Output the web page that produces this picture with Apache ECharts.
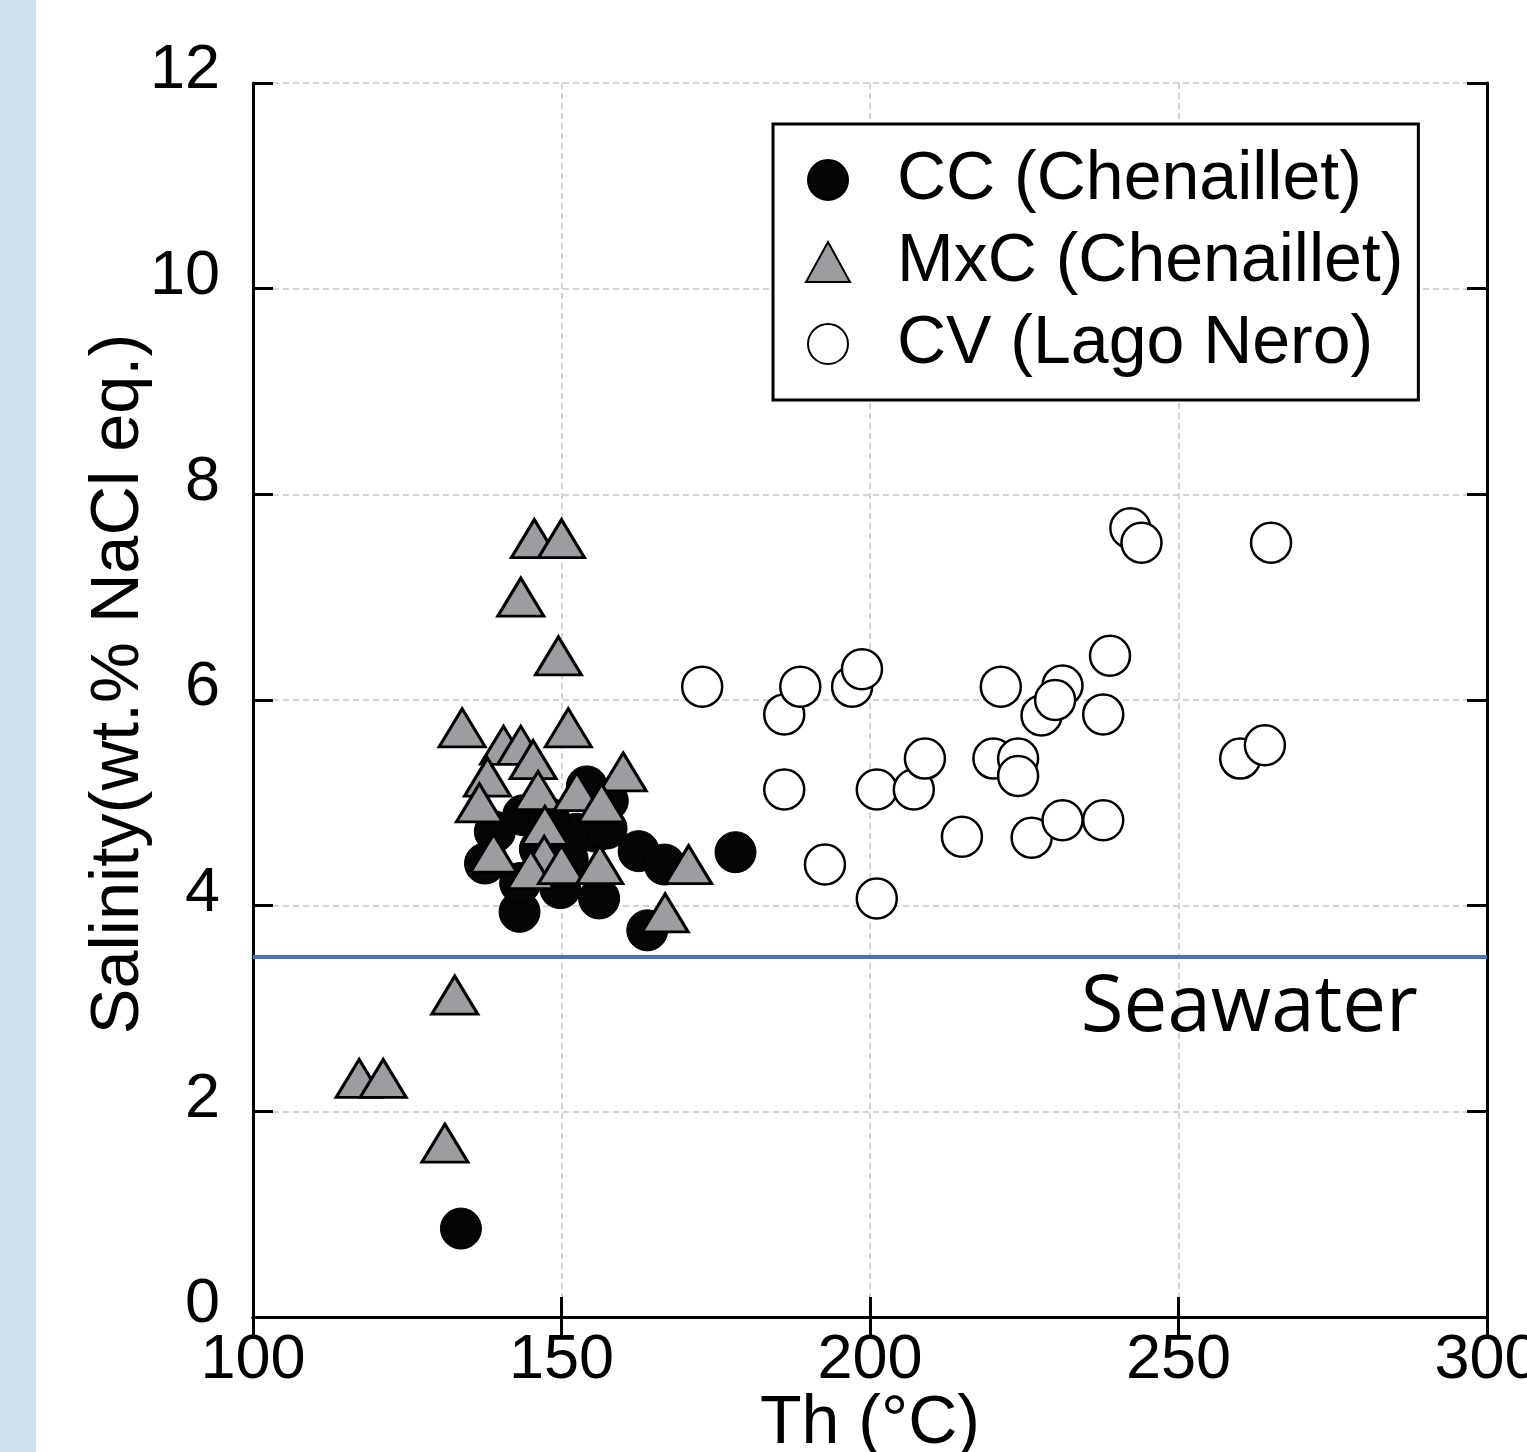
<!DOCTYPE html>
<html>
<head>
<meta charset="utf-8">
<title>Salinity vs Th</title>
<script src="https://cdn.jsdelivr.net/npm/echarts@6/dist/echarts.min.js"></script>
<style>
  html, body { margin: 0; padding: 0; background: #fff; }
  #chart { width: 1527px; height: 1452px; }
</style>
</head>
<body>
<div id="chart"></div>
<script>
// Th (°C), salinity (wt.% NaCl eq.)
const ccData = [
  [133.7, 0.86], [178.2, 4.52], [163.9, 3.76], [162.5, 4.53], [166.7, 4.40],
  [143.2, 3.94], [156.1, 4.07], [154.1, 5.16], [157.5, 5.02], [137.6, 4.41],
  [139.2, 4.72], [143.8, 4.88], [149.8, 4.17], [143.3, 4.22], [155.5, 4.72],
  [152.4, 4.70], [146.5, 4.55], [157.3, 4.75], [148.0, 4.85], [151.0, 4.45]
];
const mxcData = [
  [145.6, 7.57], [150.0, 7.57], [143.4, 7.00], [149.5, 6.43], [133.9, 5.73],
  [151.1, 5.73], [140.6, 5.56], [143.4, 5.56], [145.4, 5.42], [138.0, 5.25],
  [160.0, 5.30], [146.2, 5.12], [152.5, 5.11], [156.5, 5.00], [136.7, 5.00],
  [147.3, 4.78], [139.0, 4.51], [147.2, 4.49], [145.0, 4.35], [150.0, 4.40],
  [156.2, 4.40], [170.6, 4.40], [166.8, 3.93], [132.7, 3.13], [117.2, 2.32],
  [121.1, 2.32], [131.1, 1.69]
];
const cvData = [
  [172.8, 6.13], [186.1, 5.86], [188.7, 6.13], [186.1, 5.13], [192.7, 4.40],
  [197.1, 6.13], [198.7, 6.30], [201.1, 5.13], [201.1, 4.07], [207.1, 5.13],
  [208.9, 5.43], [214.9, 4.67], [242.2, 7.67], [244.0, 7.53], [265.0, 7.53],
  [238.9, 6.43], [221.2, 6.13], [231.2, 6.14], [227.8, 5.85], [230.0, 6.00],
  [237.8, 5.86], [220.0, 5.43], [224.0, 5.43], [224.0, 5.26], [260.0, 5.43],
  [264.0, 5.56], [226.2, 4.66], [231.2, 4.83], [237.8, 4.83]
];
const seawater = 3.5;
const seriesNames = ["CC (Chenaillet)", "MxC (Chenaillet)", "CV (Lago Nero)"];
const xRange = { min: 100, max: 300, interval: 50 };
const yRange = { min: 0, max: 12, interval: 2 };

const font = "'Liberation Sans', Arial, sans-serif";

const axisCommon = {
  axisLine: { lineStyle: { color: "#000", width: 3 } },
  axisTick: { inside: true, length: 20, lineStyle: { color: "#000", width: 3 } },
};

var myChart = echarts.init(document.getElementById("chart"));
myChart.setOption({
  backgroundColor: "#fff",
  animation: false,
  graphic: [
    {
      type: "rect",
      left: 0, top: 0,
      shape: { width: 36, height: 1452 },
      style: { fill: "#cfe0f1" },
      z: -10,
    },
  ],
  grid: { left: 253, right: 40, top: 83, bottom: 135, containLabel: false, outerBoundsMode: "none" },
  legend: {
    data: seriesNames,
    orient: "vertical",
    left: 773,
    top: 124,
    padding: [22, 15, 22, 32],
    itemGap: 14,
    itemWidth: 44,
    itemHeight: 40,
    borderColor: "#000",
    borderWidth: 3,
    backgroundColor: "#fff",
    textStyle: {
      fontFamily: font,
      fontSize: 68,
      lineHeight: 66,
      color: "#000",
      padding: [0, 0, 0, 42],
    },
  },
  xAxis: [
    Object.assign({
      type: "value",
      min: xRange.min, max: xRange.max, interval: xRange.interval,
      name: "Th (°C)",
      nameLocation: "middle",
      nameGap: 73,
      nameMoveOverlap: false,
      nameTextStyle: { fontFamily: font, fontSize: 68, color: "#000" },
      axisLabel: { fontFamily: font, fontSize: 63, color: "#000", margin: 12 },
      splitLine: { show: true, lineStyle: { color: "#d4d4d4", width: 2, type: [6, 4] } },
    }, axisCommon),
    Object.assign({
      type: "value", position: "top",
      min: xRange.min, max: xRange.max, interval: xRange.interval,
      axisLabel: { show: false },
      splitLine: { show: false },
    }, axisCommon),
  ],
  yAxis: [
    Object.assign({
      type: "value",
      min: yRange.min, max: yRange.max, interval: yRange.interval,
      name: "Salinity(wt.% NaCl eq.)",
      nameLocation: "middle",
      nameGap: 99,
      nameMoveOverlap: false,
      nameTextStyle: { fontFamily: font, fontSize: 68.5, color: "#000", padding: [0, 0, 0, 32] },
      axisLabel: {
        fontFamily: font, fontSize: 63, color: "#000", margin: 33,
        verticalAlign: "bottom", lineHeight: 24,
      },
      splitLine: { show: true, lineStyle: { color: "#d4d4d4", width: 2, type: [6, 4] } },
    }, axisCommon),
    Object.assign({
      type: "value", position: "right",
      min: yRange.min, max: yRange.max, interval: yRange.interval,
      axisLabel: { show: false },
      splitLine: { show: false },
    }, axisCommon),
  ],
  series: [
    {
      name: "Seawater",
      type: "scatter",
      data: [],
      markLine: {
        silent: true,
        symbol: "none",
        lineStyle: { color: "#4472c4", width: 4, type: "solid" },
        label: {
          show: true,
          formatter: "Seawater",
          position: "insideEndBottom",
          distance: [69, 13],
          fontFamily: "'Open Sans', sans-serif",
          fontSize: 78,
          color: "#000",
        },
        data: [{ yAxis: seawater }],
      },
    },
    {
      name: seriesNames[0],
      type: "scatter",
      data: ccData,
      symbol: "circle",
      symbolSize: 41,
      itemStyle: { color: "#050505", borderColor: "#000", borderWidth: 1, opacity: 1 },
    },
    {
      name: seriesNames[1],
      type: "scatter",
      data: mxcData,
      symbol: "triangle",
      symbolSize: [46, 38],
      itemStyle: { color: "#9b9da0", borderColor: "#000", borderWidth: 3, opacity: 1 },
    },
    {
      name: seriesNames[2],
      type: "scatter",
      data: cvData,
      symbol: "circle",
      symbolSize: 40,
      itemStyle: { color: "#fff", borderColor: "#000", borderWidth: 2.5, opacity: 1 },
    },
  ],
});
</script>
</body>
</html>
